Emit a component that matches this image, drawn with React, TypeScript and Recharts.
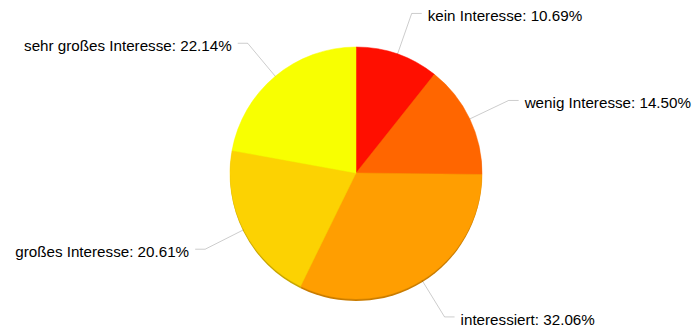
import { PieChart, Pie, Cell } from 'recharts'

const categories = ['kein Interesse', 'wenig Interesse', 'interessiert', 'großes Interesse', 'sehr großes Interesse']
const values = [10.69, 14.5, 32.06, 20.61, 22.14]
const colors = ['#FF0F00', '#FF6600', '#FF9E01', '#FCD202', '#F8FF01']
const shadowColors = ['#c40c00', '#c44f00', '#c97c00', '#c7a500', '#c4c900']

const data = categories.map((name, i) => ({ name, value: values[i] }))

const RAD = Math.PI / 180

function renderLabel(props: any) {
  const { cx, cy, midAngle, outerRadius, index } = props
  const cos = Math.cos(-midAngle * RAD)
  const sin = Math.sin(-midAngle * RAD)
  const x0 = cx + outerRadius * cos
  const y0 = cy + outerRadius * sin
  const x1 = cx + (outerRadius + 43) * cos
  const y1 = cy + (outerRadius + 43) * sin
  const right = cos >= 0
  const x2 = x1 + (right ? 10 : -10)
  const tx = x2 + (right ? 6 : -6)
  return (
    <g key={`lbl-${index}`}>
      <polyline
        points={`${x0},${y0} ${x1},${y1} ${x2},${y1}`}
        fill="none"
        stroke="#000"
        strokeOpacity={0.2}
        strokeWidth={1}
      />
      <text
        x={tx}
        y={y1 + 8}
        textAnchor={right ? 'start' : 'end'}
        fill="#000"
        fontSize={15.2}
        fontFamily="'Liberation Sans', Arial, Helvetica, sans-serif"
      >
        {`${categories[index]}: ${values[index].toFixed(2)}%`}
      </text>
    </g>
  )
}

export default function App() {
  return (
    <div style={{ position: 'absolute', left: 0, top: 0, width: 697, height: 331, background: '#fff' }}>
      <PieChart width={697} height={331} margin={{ top: 0, right: 0, bottom: 0, left: 0 }}>
        <Pie
          data={data}
          dataKey="value"
          cx={356}
          cy={175}
          outerRadius={126}
          startAngle={90}
          endAngle={-270}
          isAnimationActive={false}
          labelLine={false}
          stroke="none"
        >
          {data.map((d, i) => (
            <Cell key={d.name} fill={shadowColors[i]} />
          ))}
        </Pie>
        <Pie
          data={data}
          dataKey="value"
          cx={356}
          cy={173}
          outerRadius={126}
          startAngle={90}
          endAngle={-270}
          isAnimationActive={false}
          labelLine={false}
          label={renderLabel}
        >
          {data.map((d, i) => (
            <Cell key={d.name} fill={colors[i]} stroke={colors[i]} strokeWidth={0.5} />
          ))}
        </Pie>
      </PieChart>
    </div>
  )
}
